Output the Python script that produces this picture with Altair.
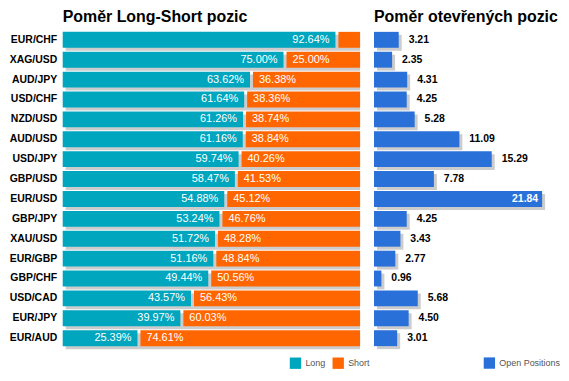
import altair as alt
import pandas as pd

pairs = ["EUR/CHF", "XAG/USD", "AUD/JPY", "USD/CHF", "NZD/USD", "AUD/USD", "USD/JPY", "GBP/USD",
         "EUR/USD", "GBP/JPY", "XAU/USD", "EUR/GBP", "GBP/CHF", "USD/CAD", "EUR/JPY", "EUR/AUD"]
long_pct = [92.64, 75.00, 63.62, 61.64, 61.26, 61.16, 59.74, 58.47,
            54.88, 53.24, 51.72, 51.16, 49.44, 43.57, 39.97, 25.39]
short_pct = [7.36, 25.00, 36.38, 38.36, 38.74, 38.84, 40.26, 41.53,
             45.12, 46.76, 48.28, 48.84, 50.56, 56.43, 60.03, 74.61]
open_pos = [3.21, 2.35, 4.31, 4.25, 5.28, 11.09, 15.29, 7.78,
            21.84, 4.25, 3.43, 2.77, 0.96, 5.68, 4.50, 3.01]

TEAL = "#00A5BE"
ORANGE = "#FF6600"
BLUE = "#2A70D9"
SHADOW = "#CCCCCC"
FONT = "Liberation Sans"

WL, WR, H = 296, 178, 320
SH = 3  # shadow / gap shift in px

df = pd.DataFrame({"pair": pairs, "long": long_pct, "short": short_pct, "open": open_pos})


def yenc(shift=0, axis=False):
    rng = [shift, H + shift]
    ax = alt.Axis(title=None, domain=False, ticks=False, labelFontWeight="bold",
                  labelFontSize=10.5, labelColor="black", labelPadding=6, labelFont=FONT,
                  grid=False) if axis else None
    return alt.Y("pair:N", sort=pairs,
                 scale=alt.Scale(domain=pairs, paddingInner=0.2, paddingOuter=0.1, range=rng),
                 axis=ax)


def xl(shift=0):
    return alt.Scale(domain=[0, 100], nice=False, zero=True, range=[shift, WL + shift])


base_l = alt.Chart(df).transform_calculate(full="100", zero="0")

color_l = alt.Scale(domain=["Long", "Short"], range=[TEAL, ORANGE])
leg_l = alt.Legend(title=None, orient="none", legendX=228, legendY=329, direction="horizontal",
                   symbolType="square", symbolSize=130, symbolStrokeWidth=0, labelFontSize=9,
                   labelColor="#555555", labelFont=FONT, columnPadding=6, labelOffset=4)

shadow_l = base_l.mark_bar(color=SHADOW).encode(
    x=alt.X("zero:Q", scale=xl(SH), axis=None), x2="full:Q", y=yenc(SH))
long_bar = base_l.transform_calculate(kind="'Long'").mark_bar().encode(
    x=alt.X("long:Q", scale=xl(), axis=None), y=yenc(0, axis=True),
    color=alt.Color("kind:N", scale=color_l, legend=leg_l))
short_bar = base_l.transform_calculate(kind="'Short'").mark_bar().encode(
    x=alt.X("long:Q", scale=xl(SH), axis=None), x2="full:Q", y=yenc(0),
    color=alt.Color("kind:N", scale=color_l, legend=leg_l))
long_txt = base_l.transform_calculate(lab="format(datum.long, '.2f') + '%'").mark_text(
    align="right", dx=-6, color="white", fontSize=11, font=FONT).encode(
    x=alt.X("long:Q", scale=xl(), axis=None), y=yenc(0), text="lab:N")
short_txt = base_l.transform_filter("datum.short >= 10").transform_calculate(
    lab="format(datum.short, '.2f') + '%'").mark_text(
    align="left", dx=9, color="white", fontSize=11, font=FONT).encode(
    x=alt.X("long:Q", scale=xl(), axis=None), y=yenc(0), text="lab:N")

left = alt.layer(shadow_l, long_bar, short_bar, long_txt, short_txt).resolve_scale(
    x="independent", y="independent").properties(
    width=WL, height=H,
    title=alt.TitleParams("Poměr Long-Short pozic", anchor="start", frame="group", fontSize=16,
                          font=FONT, fontWeight="bold", color="black", offset=5))


def xr(shift=0):
    return alt.Scale(domain=[0, 23], nice=False, zero=True, range=[shift, WR + shift])


base_r = alt.Chart(df)
color_r = alt.Scale(domain=["Open Positions"], range=[BLUE])
leg_r = alt.Legend(title=None, orient="none", legendX=110, legendY=329, direction="horizontal",
                   symbolType="square", symbolSize=130, symbolStrokeWidth=0, labelFontSize=9,
                   labelColor="#555555", labelFont=FONT, labelOffset=4)

shadow_r = base_r.mark_bar(color=SHADOW).encode(
    x=alt.X("open:Q", scale=xr(SH), axis=None), y=yenc(SH))
bar_r = base_r.transform_calculate(kind="'Open Positions'").mark_bar().encode(
    x=alt.X("open:Q", scale=xr(), axis=None), y=yenc(0),
    color=alt.Color("kind:N", scale=color_r, legend=leg_r))
txt_out = base_r.transform_filter("datum.open < 20").transform_calculate(
    lab="format(datum.open, '.2f')").mark_text(
    align="left", dx=7, color="black", fontSize=10.5, fontWeight="bold", font=FONT).encode(
    x=alt.X("open:Q", scale=xr(SH), axis=None), y=yenc(0), text="lab:N")
txt_in = base_r.transform_filter("datum.open >= 20").transform_calculate(
    lab="format(datum.open, '.2f')").mark_text(
    align="right", dx=-4, color="white", fontSize=10.5, fontWeight="bold", font=FONT).encode(
    x=alt.X("open:Q", scale=xr(), axis=None), y=yenc(0), text="lab:N")

right = alt.layer(shadow_r, bar_r, txt_out, txt_in).resolve_scale(
    x="independent", y="independent").properties(
    width=WR, height=H,
    title=alt.TitleParams("Poměr otevřených pozic", anchor="start", frame="group", fontSize=16,
                          font=FONT, fontWeight="bold", color="black", offset=5))

chart = alt.hconcat(left, right, spacing=4).resolve_scale(color="independent").properties(
    padding={"left": 1, "top": 0, "right": 0, "bottom": 0}
).configure_view(stroke=None)

chart.save("out.html", embed_options={"renderer": "svg", "actions": False})
